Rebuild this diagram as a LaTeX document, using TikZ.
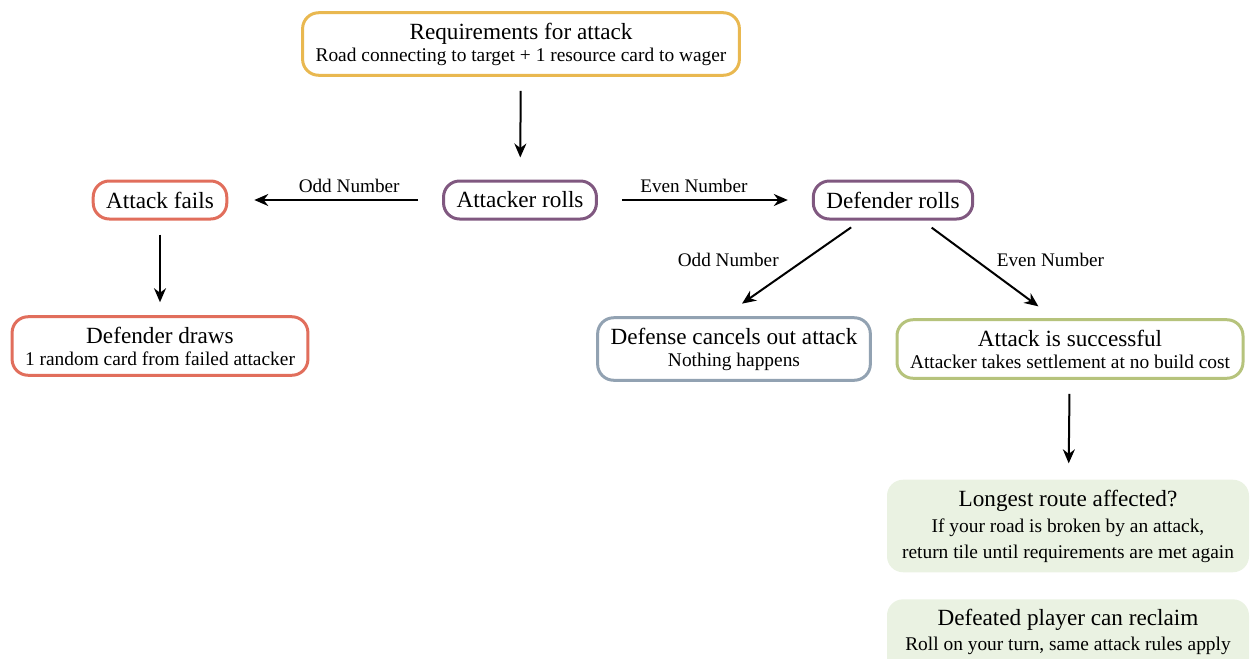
\documentclass[tikz,border=0pt]{standalone}
\usepackage{fontspec}
\setmainfont{Liberation Serif}
\usetikzlibrary{arrows.meta}
\definecolor{reqgold}{RGB}{233,184,80}
\definecolor{rollpurple}{RGB}{128,88,128}
\definecolor{failred}{RGB}{225,110,92}
\definecolor{cancelgrey}{RGB}{146,162,178}
\definecolor{wingreen}{RGB}{182,195,124}
\definecolor{notefill}{RGB}{234,242,226}
\newcommand{\boxtitle}{\fontsize{11.6}{13}\selectfont}
\newcommand{\boxsub}{\fontsize{9.7}{11.6}\selectfont}
\begin{document}
\begin{tikzpicture}[x=0.5pt,y=-0.5pt,line join=round,
	stage/.style={draw=#1,line width=1.5pt,rounded corners=8pt,fill=white,
		align=center,inner xsep=6.5pt,inner ysep=3pt,minimum height=19pt,font=\boxtitle},
	bigstage/.style={stage=#1,inner ysep=5pt},
	note/.style={fill=notefill,rounded corners=8pt,align=center,
		minimum width=181pt,inner ysep=5pt,font=\boxtitle},
	flow/.style={line width=1pt,-{Stealth[length=7pt,width=6pt]},shorten <=7pt,shorten >=11pt},
	roll/.style={font=\fontsize{9.6}{11}\selectfont,inner sep=2pt}]
	\useasboundingbox (0,0) rectangle (1250,659);
	\path
	(521,44) node[bigstage=reqgold] (req) {Requirements for attack\\[-2pt]{\boxsub Road connecting to target + 1 resource card to wager}}
	(520,200) node[stage=rollpurple] (att) {Attacker rolls}
	(160,200) node[stage=failred] (fail) {Attack fails}
	(893,200) node[stage=rollpurple] (def) {Defender rolls}
	(160,346) node[bigstage=failred] (draws) {Defender draws\\[-2pt]{\boxsub 1 random card from failed attacker}}
	(734,349) node[bigstage=cancelgrey] (cancel) {Defense cancels out attack\\[-2pt]{\boxsub Nothing happens}}
	(1070,349) node[bigstage=wingreen] (win) {Attack is successful\\[-2pt]{\boxsub Attacker takes settlement at no build cost}}
	(1068,526) node[note] (route) {Longest route affected?\\[0pt]{\boxsub If your road is broken by an attack,}\\{\boxsub return tile until requirements are met again}}
	(1068,647) node[note] (reclaim) {Defeated player can reclaim\\[-0.5pt]{\boxsub Roll on your turn, same attack rules apply}\\[4pt]}
	;
	\draw[flow] (req) -- (att);
	\draw[flow,shorten <=12pt,shorten >=13pt] (att) -- node[roll,above=1pt,xshift=7pt]{Odd Number} (fail);
	\draw[flow,shorten <=12pt,shorten >=12pt] (att) -- node[roll,above=1pt,xshift=-5.5pt]{Even Number} (def);
	\draw[flow,shorten >=6.5pt] (fail) -- (draws);
	\draw[flow,shorten <=6pt] ([xshift=-16pt]def.south) -- node[roll,above left,pos=0.55,xshift=-1pt,yshift=0.5pt]{Odd Number} ([xshift=-5pt]cancel.north);
	\draw[flow,shorten <=6pt,shorten >=10pt] ([xshift=14.5pt]def.south) -- node[roll,above right,pos=0.55,xshift=-1.5pt,yshift=1.5pt]{Even Number} ([xshift=-7.75pt]win.north);
	\draw[flow,shorten >=8pt] (win) -- (route);
\end{tikzpicture}
\end{document}
